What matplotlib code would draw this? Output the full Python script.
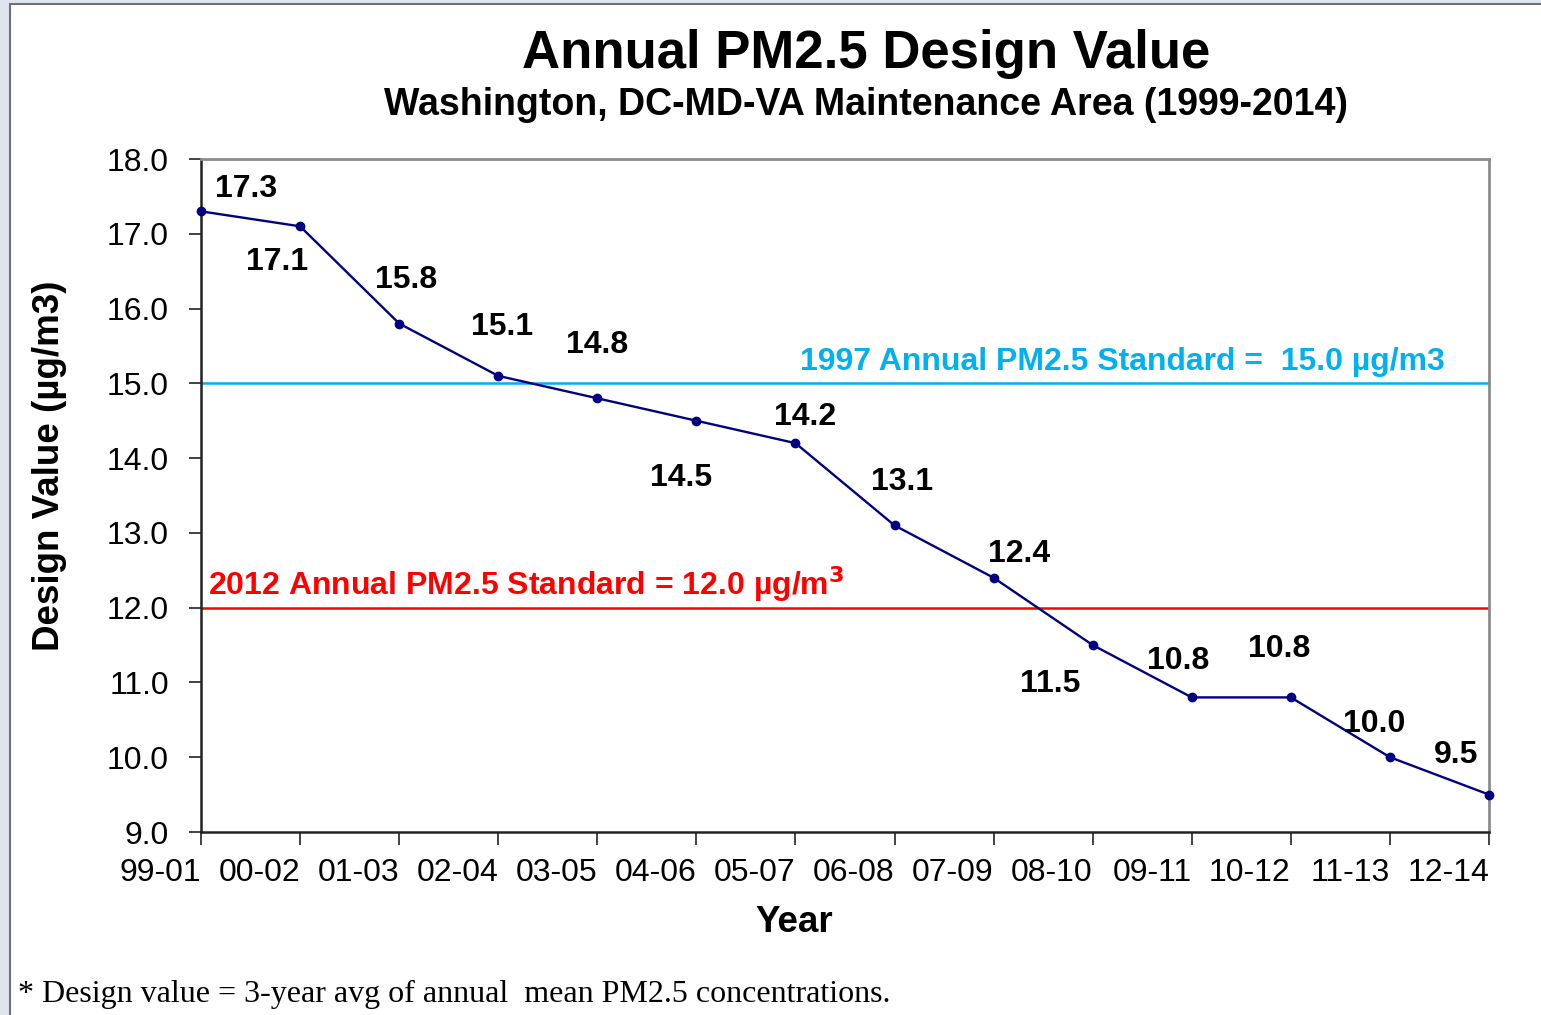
import numpy as np
import matplotlib
matplotlib.use('Agg')
import matplotlib.pyplot as plt
from matplotlib.patches import Rectangle

# design values (3-year periods)
periods = ['99-01', '00-02', '01-03', '02-04', '03-05', '04-06', '05-07',
           '06-08', '07-09', '08-10', '09-11', '10-12', '11-13', '12-14']
design_values = [17.3, 17.1, 15.8, 15.1, 14.8, 14.5, 14.2,
                 13.1, 12.4, 11.5, 10.8, 10.8, 10.0, 9.5]
std_1997 = 15.0
std_2012 = 12.0
yticks = [9.0, 10.0, 11.0, 12.0, 13.0, 14.0, 15.0, 16.0, 17.0, 18.0]

# label offsets in pixels (dx, dy)
label_offsets = [(45, 22), (-23, -36), (7, 44), (4, 49), (0, 53), (-15, -57),
                 (10, 26), (8, 43), (25, 24), (-43, -39), (-14, 36),
                 (-12, 48), (-16, 33), (-33, 40)]

plt.rcParams['font.family'] = ['Liberation Sans', 'DejaVu Sans']

W, H = 1541, 1015
fig = plt.figure(figsize=(W / 100, H / 100), dpi=100)
fig.patch.set_facecolor('#dfe5ef')
fig.patches.append(Rectangle((10 / W, -0.01), 1.0, 1 - 4 / H + 0.01,
                             transform=fig.transFigure, facecolor='white',
                             edgecolor='#707070', linewidth=1.5, zorder=-10))

ax = fig.add_axes([201 / W, 1 - 832 / H, (1489 - 201) / W, (832 - 159) / H])
ax.set_facecolor('white')
x = np.arange(len(periods))

ax.axhline(std_1997, color='#00b0f0', lw=1.8, zorder=2)
ax.axhline(std_2012, color='#ff0000', lw=1.8, zorder=2)
ax.plot(x, design_values, color='#000080', lw=1.7, marker='o', ms=6,
        zorder=3, clip_on=False)

for xi, v, (dx, dy) in zip(x, design_values, label_offsets):
    ax.annotate('%.1f' % v, (xi, v), xytext=(dx, dy), textcoords='offset pixels',
                ha='center', va='center', fontsize=23, fontweight='bold')

fig.text(800 / W, 1 - 362 / H, '1997 Annual PM2.5 Standard =  15.0 µg/m3',
         color='#00b0f0', fontsize=23, fontweight='bold', va='center', ha='left')
fig.text(208 / W, 1 - 584 / H, '2012 Annual PM2.5 Standard = 12.0 µg/m$^{\\mathbf{3}}$',
         color='#ff0000', fontsize=23, fontweight='bold', va='center', ha='left')

ax.set_xlim(0, len(periods) - 1)
ax.set_ylim(9.0, 18.0)
ax.set_xticks(x)
ax.set_xticklabels(periods, ha='right')
ax.set_yticks(yticks)
ax.set_yticklabels(['%.1f' % t for t in yticks])
ax.tick_params(axis='both', labelsize=23, length=9, width=1.2, direction='out',
               color='#222222')
ax.tick_params(axis='x', pad=10)
ax.tick_params(axis='y', pad=14)

for s in ['left', 'bottom']:
    ax.spines[s].set_color('#222222')
    ax.spines[s].set_linewidth(1.8)
for s in ['top', 'right']:
    ax.spines[s].set_color('#8c8c8c')
    ax.spines[s].set_linewidth(2.0)

fig.text(794 / W, 1 - 923 / H, 'Year', fontsize=26.5, fontweight='bold',
         ha='center', va='center')
fig.text(50 / W, 1 - 466 / H, 'Design Value (µg/m3)', fontsize=26.5,
         fontweight='bold', rotation=90, ha='center', va='center')

fig.text(866 / W, 1 - 54 / H, 'Annual PM2.5 Design Value', fontsize=38,
         fontweight='bold', ha='center', va='center')
fig.text(866 / W, 1 - 105 / H, 'Washington, DC-MD-VA Maintenance Area (1999-2014)',
         fontsize=27, fontweight='bold', ha='center', va='center')
fig.text(18 / W, 1 - 994 / H,
         '* Design value = 3-year avg of annual  mean PM2.5 concentrations.',
         fontsize=23, family='Liberation Serif', ha='left', va='center')

fig.savefig('out.png', dpi=100, facecolor=fig.get_facecolor())
